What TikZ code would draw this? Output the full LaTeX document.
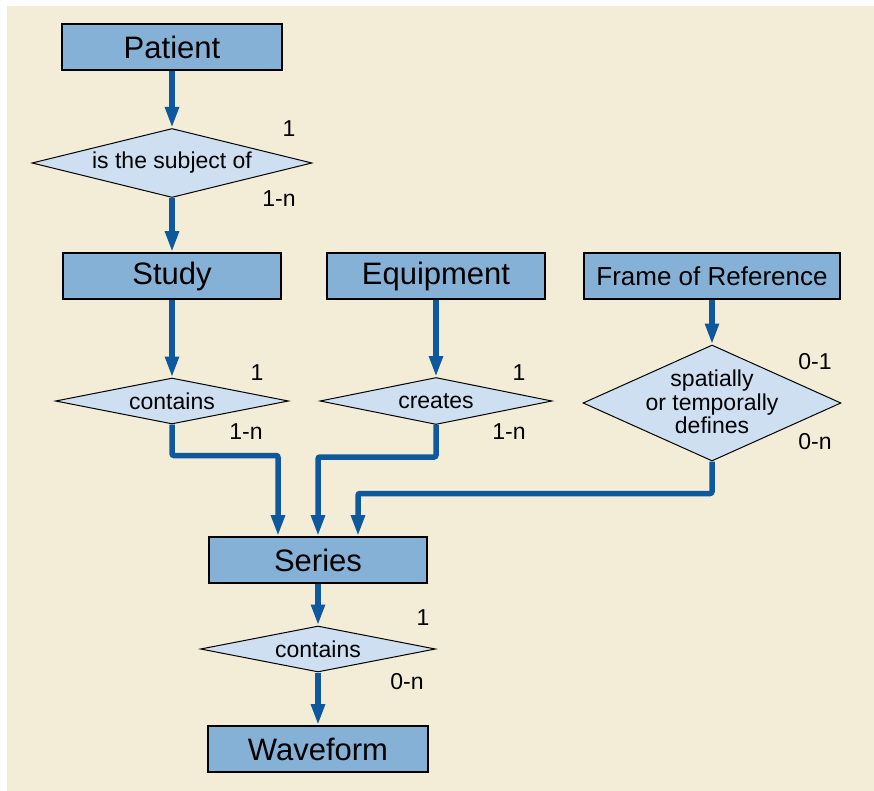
\documentclass[tikz,border=0pt]{standalone}
\usepackage{fontspec}
\setmainfont{Liberation Sans}
\usetikzlibrary{shapes.geometric,arrows.meta}

\definecolor{paper}{RGB}{243,236,214}
\definecolor{entfill}{RGB}{134,177,214}
\definecolor{relfill}{RGB}{205,223,241}
\definecolor{flowblue}{RGB}{14,88,158}

\tikzset{
  entity/.style={draw=black, line width=1.6pt, fill=entfill, minimum width=218pt,
    minimum height=46pt, inner sep=0pt, font=\fontsize{31}{36}\selectfont},
  relship/.style={diamond, aspect=5, draw=black, line width=1pt, fill=relfill, inner sep=0pt,
    font=\fontsize{23}{24}\selectfont, align=center},
  card/.style={inner sep=0pt, font=\fontsize{23}{24}\selectfont},
  flow/.style={draw=flowblue, line width=5.5pt, rounded corners=2pt,
    -{Triangle[width=13pt,length=21pt]}},
}

\begin{document}
\begin{tikzpicture}
    [x=1pt,y=-1pt]
    %page
    \useasboundingbox (0,0) rectangle (874,791);
    \fill[white] (0,0) rectangle (874,791);
    \fill[paper] (7,6) rectangle (874,791);
    %entities
    \node[entity, minimum width=220pt] (patient) at (172,47) {Patient};
    \node[entity] (study) at (172,276) {Study};
    \node[entity] (equip) at (436,276) {Equipment};
    \node[entity, minimum width=256pt, font=\fontsize{26}{30}\selectfont] (frame) at (712,276) {Frame of Reference};
    \node[entity] (series) at (318,560) {Series};
    \node[entity, minimum width=220pt] (wave) at (318,749) {Waveform};
    %relationships
    \node[relship, aspect=4, minimum width=280pt, minimum height=69pt] (subj) at (172,163) {is the subject of};
    \node[relship, minimum width=233pt, minimum height=46pt] (cont1) at (172,401) {contains};
    \node[relship, minimum width=232pt, minimum height=47pt] (crt) at (436,401) {creates};
    \node[relship, aspect=2.2, minimum width=258pt, minimum height=116pt] (sptl) at (712,403) {};
    \node[align=center, inner sep=0pt, font=\fontsize{23}{23.5}\selectfont] (sptltext) at (712,402) {spatially\\or temporally\\defines};
    \node[relship, minimum width=235pt, minimum height=46pt] (cont2) at (318,649) {contains};
    %entry points on series
    \coordinate (in1) at ([xshift=-40pt]series.north);
    \coordinate (in3) at ([xshift=40pt]series.north);
    %connectors
    \draw[flow] (patient.south) -- (subj.north);
    \draw[flow] (subj.south) -- (study.north);
    \draw[flow] (study.south) -- (cont1.north);
    \draw[flow] (equip.south) -- (crt.north);
    \draw[flow] (frame.south) -- (sptl.north);
    \draw[flow] (cont1.south) -- ++(0,31) -| (in1);
    \draw[flow] (crt.south) -- ++(0,32) -| (series.north);
    \draw[flow] (sptl.south) -- ++(0,32) -| (in3);
    \draw[flow] (series.south) -- (cont2.north);
    \draw[flow] (cont2.south) -- (wave.north);
    %cardinalities
    \node[card] (subjone) at (289,129) {1};
    \node[card] (subjmany) at (279,199) {1-n};
    \node[card] (contone) at (257,373) {1};
    \node[card] (contmany) at (246,432) {1-n};
    \node[card] (crtone) at (519,373) {1};
    \node[card] (crtmany) at (509,432) {1-n};
    \node[card] (sptlone) at (815,362) {0-1};
    \node[card] (sptlmany) at (815,442) {0-n};
    \node[card] (wavone) at (423,618) {1};
    \node[card] (wavmany) at (407,682) {0-n};
\end{tikzpicture}
\end{document}
